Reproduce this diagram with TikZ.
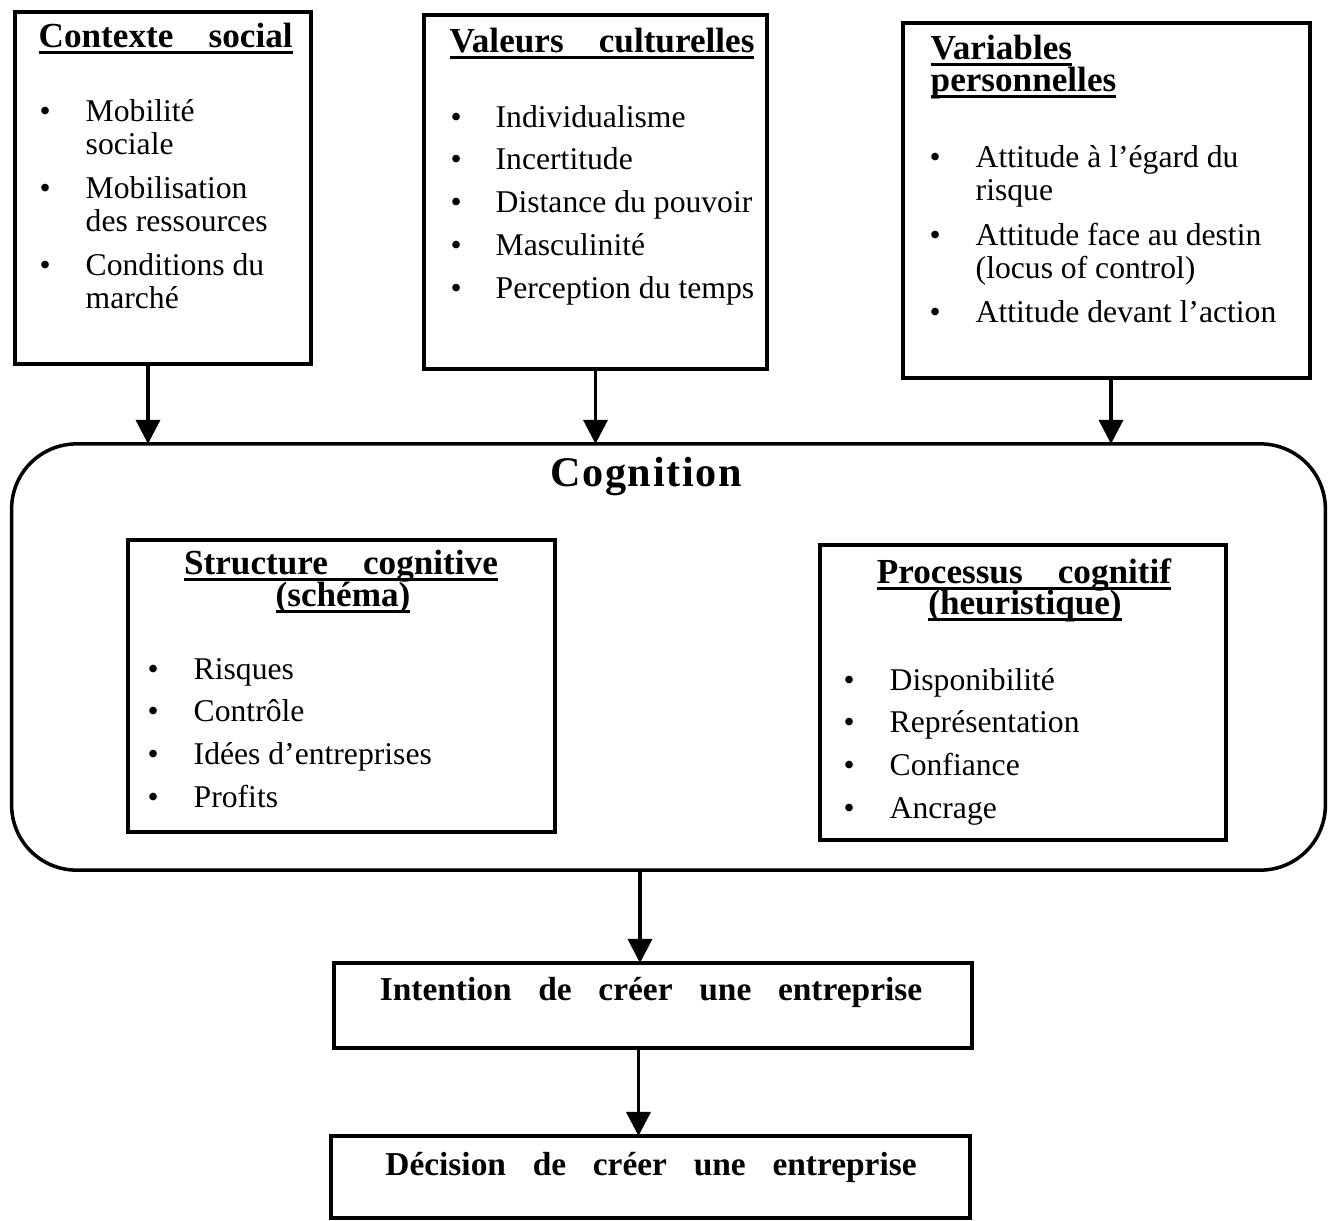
\documentclass[tikz,border=0pt]{standalone}
\usepackage{fontspec}
\setmainfont{Liberation Serif}
\usetikzlibrary{arrows.meta,positioning}
\newcommand{\wordgap}[1]{\spaceskip=#1\relax}
\newcommand{\headline}[1]{\setbox0\hbox{#1}\rlap{\rule[-1.9pt]{\wd0}{0.8pt}}\box0}

\begin{document}
\begin{tikzpicture}[
  x=0.01cm,y=-0.01cm,
  >={Triangle[length=0.24cm,width=0.24cm]},
  box/.style={draw,line width=1pt,inner sep=0pt,outer sep=0pt},
  head/.style={font=\fontsize{10}{12}\selectfont\bfseries\wordgap{1em},inner sep=0pt},
  items/.style={font=\fontsize{9}{9.4}\selectfont,inner sep=0pt,anchor=base west},
  result/.style={font=\fontsize{9.5}{12}\selectfont\bfseries\wordgap{0.8em},inner sep=0pt,anchor=base},
  flow/.style={->,line width=1pt}
]
  \useasboundingbox (0,0) rectangle (1329,1220);

  \node[box,minimum width=2.96cm,minimum height=3.52cm] (ctx) at (163,188) {};
  \node[box,minimum width=3.43cm,minimum height=3.54cm] (val) at (595.5,192) {};
  \node[box,minimum width=4.07cm,minimum height=3.55cm] (var) at (1106.5,200.5) {};
  \node[box,rounded corners=0.65cm,minimum width=13.13cm,minimum height=4.26cm] (cog) at (668.5,657) {};
  \node[box,minimum width=4.27cm,minimum height=2.92cm] (struct) at (341.5,686) {};
  \node[box,minimum width=4.06cm,minimum height=2.95cm] (proc) at (1023,692.5) {};
  \node[box,minimum width=6.38cm,minimum height=0.85cm] (intent) at (653,1005.5) {};
  \node[box,minimum width=6.39cm,minimum height=0.82cm] (decis) at (650.5,1177) {};

  \node[head,anchor=base west] (ctxh) at (38,47) {\headline{Contexte social}};
  \node[items] (ctxl) at (39,121) {\begin{tabular}[t]{@{}p{0.46cm}@{}l@{}}
    \textbullet & Mobilité\\ & sociale\\[3.1pt]
    \textbullet & Mobilisation\\ & des ressources\\[3.1pt]
    \textbullet & Conditions du\\ & marché
  \end{tabular}};

  \node[head,anchor=base west] (valh) at (449,52) {\headline{Valeurs culturelles}};
  \node[items] (vall) at (450,127) {\begin{tabular}[t]{@{}p{0.45cm}@{}l@{}}
    \textbullet & Individualisme\\[2.8pt]
    \textbullet & Incertitude\\[2.8pt]
    \textbullet & Distance du pouvoir\\[2.8pt]
    \textbullet & Masculinité\\[2.8pt]
    \textbullet & Perception du temps
  \end{tabular}};

  \node[head,anchor=base west] (varh) at (930,59) {\headline{Variables}};
  \node[head,anchor=base west] (varh2) at (930,91) {\headline{personnelles}};
  \node[items] (varl) at (929,167) {\begin{tabular}[t]{@{}p{0.46cm}@{}l@{}}
    \textbullet & Attitude à l’égard du\\ & risque\\[3.4pt]
    \textbullet & Attitude face au destin\\ & (locus of control)\\[3.1pt]
    \textbullet & Attitude devant l’action
  \end{tabular}};

  \node[font=\fontsize{12}{14}\selectfont\bfseries\addfontfeature{LetterSpace=4},inner sep=0pt,anchor=base] (cogh) at (646,486) {Cognition};

  \node[head,anchor=base] (structh) at (341,574) {\headline{Structure cognitive}};
  \node[head,anchor=base] (structh2) at (343,606) {\headline{(schéma)}};
  \node[items] (structl) at (147,679) {\begin{tabular}[t]{@{}p{0.46cm}@{}l@{}}
    \textbullet & Risques\\[2.8pt]
    \textbullet & Contrôle\\[2.8pt]
    \textbullet & Idées d’entreprises\\[2.8pt]
    \textbullet & Profits
  \end{tabular}};

  \node[head,anchor=base] (proch) at (1024,583) {\headline{Processus cognitif}};
  \node[head,anchor=base] (proch2) at (1025,614) {\headline{(heuristique)}};
  \node[items] (procl) at (843,690) {\begin{tabular}[t]{@{}p{0.46cm}@{}l@{}}
    \textbullet & Disponibilité\\[2.8pt]
    \textbullet & Représentation\\[2.8pt]
    \textbullet & Confiance\\[2.8pt]
    \textbullet & Ancrage
  \end{tabular}};

  \node[result] (intenth) at (651,1000) {Intention de créer une entreprise};
  \node[result] (decish) at (651,1175) {Décision de créer une entreprise};

  \draw[flow] ([xshift=-0.15cm]ctx.south) -- ([xshift=-0.15cm]ctx.south |- cog.north);
  \draw[flow] (val.south) -- (val.south |- cog.north);
  \draw[flow] ([xshift=0.045cm]var.south) -- ([xshift=0.045cm]var.south |- cog.north);
  \draw[flow] ([xshift=-0.13cm]intent.north |- cog.south) -- ([xshift=-0.13cm]intent.north);
  \draw[flow] ([xshift=-0.12cm]decis.north |- intent.south) -- ([xshift=-0.12cm]decis.north);
\end{tikzpicture}
\end{document}
